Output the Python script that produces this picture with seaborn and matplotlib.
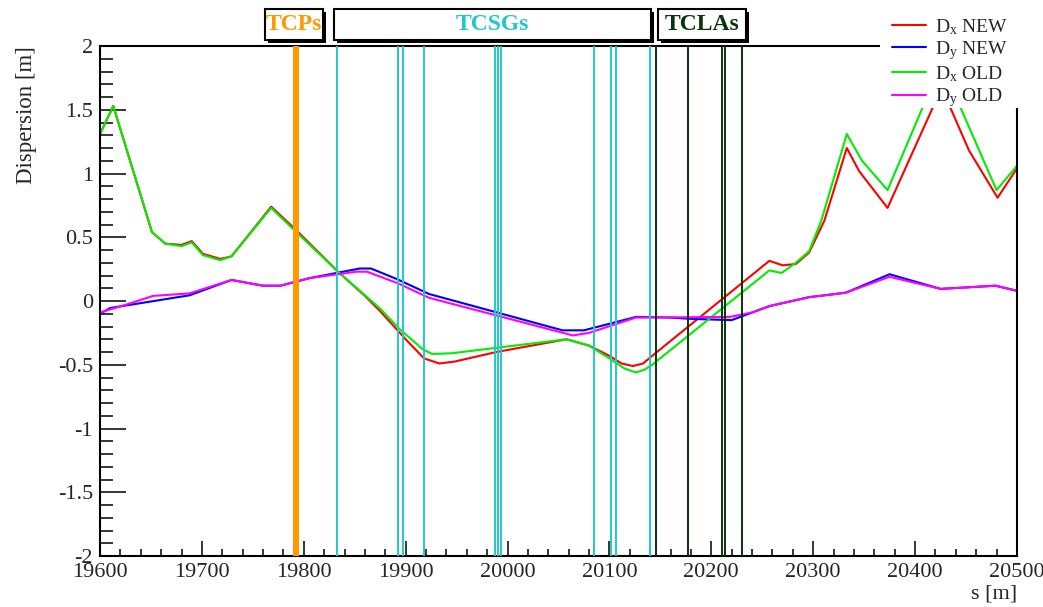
"""
Dispersion around the collimation region: NEW vs OLD optics
"""

import numpy as np
import pandas as pd
import matplotlib
matplotlib.use('Agg')
import matplotlib.pyplot as plt
import matplotlib.transforms as mtransforms
from matplotlib.patches import Rectangle
from matplotlib.lines import Line2D
from matplotlib.ticker import MultipleLocator
import seaborn as sns

sns.set_style('white')
plt.rcParams['font.family'] = ['Liberation Serif', 'DejaVu Serif']
plt.rcParams['mathtext.fontset'] = 'custom'
plt.rcParams['mathtext.rm'] = 'Liberation Serif'
plt.rcParams['mathtext.it'] = 'Liberation Serif:italic'

# --- data ---
dx_new_s = [19600, 19613, 19651, 19664, 19680, 19690, 19701, 19718, 19729, 19768,
            19792, 19835, 19860, 19875, 19900, 19918, 19933, 19948, 19989, 20058,
            20080, 20100, 20112, 20123, 20133, 20142, 20257, 20270, 20283, 20296,
            20311, 20333, 20345, 20373, 20417, 20426, 20435, 20453, 20481, 20500]
dx_new = [1.31, 1.53, 0.54, 0.45, 0.44, 0.47, 0.37, 0.33, 0.35, 0.74,
          0.56, 0.22, 0.04, -0.08, -0.30, -0.45, -0.49, -0.475, -0.40, -0.30,
          -0.35, -0.43, -0.49, -0.51, -0.49, -0.43, 0.315, 0.28, 0.29, 0.38,
          0.63, 1.20, 1.02, 0.73, 1.51, 1.68, 1.51, 1.18, 0.81, 1.04]

dy_new_s = [19600, 19610, 19688, 19729, 19760, 19777, 19806, 19855, 19866, 19892,
            19923, 20054, 20075, 20126, 20160, 20180, 20220, 20257, 20296, 20332,
            20375, 20425, 20479, 20500]
dy_new = [-0.10, -0.055, 0.045, 0.165, 0.12, 0.12, 0.18, 0.255, 0.255, 0.17,
          0.055, -0.23, -0.23, -0.125, -0.13, -0.14, -0.15, -0.04, 0.03, 0.065,
          0.21, 0.095, 0.12, 0.08]

dx_old_s = [19600, 19613, 19651, 19664, 19680, 19690, 19701, 19718, 19729, 19768,
            19794, 19835, 19875, 19894, 19917, 19926, 19945, 20058, 20080, 20100,
            20115, 20126, 20134, 20142, 20257, 20269, 20283, 20296, 20308, 20333,
            20348, 20373, 20407, 20426, 20445, 20480, 20500]
dx_old = [1.31, 1.53, 0.54, 0.45, 0.43, 0.46, 0.36, 0.32, 0.35, 0.73,
          0.53, 0.22, -0.06, -0.22, -0.38, -0.415, -0.41, -0.30, -0.35, -0.45,
          -0.53, -0.56, -0.54, -0.50, 0.24, 0.22, 0.30, 0.39, 0.63, 1.31,
          1.10, 0.87, 1.51, 1.87, 1.51, 0.87, 1.06]

dy_old_s = [19600, 19627, 19652, 19688, 19729, 19760, 19777, 19806, 19852, 19862,
            19892, 19923, 20064, 20080, 20126, 20218, 20240, 20257, 20296, 20332,
            20375, 20425, 20479, 20500]
dy_old = [-0.09, -0.025, 0.04, 0.06, 0.165, 0.12, 0.12, 0.18, 0.23, 0.23,
          0.14, 0.025, -0.27, -0.25, -0.13, -0.125, -0.09, -0.04, 0.03, 0.065,
          0.19, 0.095, 0.12, 0.08]

# collimator positions [m]
tcp_s = [19792]
tcsg_s = [19833, 19892, 19897, 19918, 19988, 19991, 19994, 20085, 20102, 20106, 20140]
tcla_s = [20146, 20177, 20211, 20213, 20230]

# label boxes (s range of each family)
box_names = ['TCPs', 'TCSGs', 'TCLAs']
box_ranges = [(19762, 19819), (19830, 20141), (20148, 20234)]

# colours
c_red, c_blue, c_green, c_mag = '#ff0000', '#0000ff', '#00ee00', '#ff00ff'
c_tcp, c_tcsg, c_tcla = '#ff9900', '#22c8c8', '#0a330a'
box_colors = [c_tcp, c_tcsg, c_tcla]

fig = plt.figure(figsize=(10.43, 6.07), dpi=100)
ax = fig.add_axes([0.0959, 0.084, 0.8791, 0.8402])

curves = [
    ('Dx NEW', dx_new_s, dx_new, c_red),
    ('Dy NEW', dy_new_s, dy_new, c_blue),
    ('Dx OLD', dx_old_s, dx_old, c_green),
    ('Dy OLD', dy_old_s, dy_old, c_mag),
]
for name, s, d, col in curves:
    df = pd.DataFrame({'s': s, 'D': d})
    sns.lineplot(data=df, x='s', y='D', color=col, linewidth=1.5, ax=ax,
                 estimator=None, sort=False, legend=False)

for x in tcp_s:
    ax.axvline(x, color=c_tcp, lw=4.3, zorder=4)
for x in tcsg_s:
    ax.axvline(x, color=c_tcsg, lw=1.4, zorder=4)
for x in tcla_s:
    ax.axvline(x, color=c_tcla, lw=1.4, zorder=4)

ax.set_xlim(19600, 20500)
ax.set_ylim(-2, 2)
ax.xaxis.set_major_locator(MultipleLocator(100))
ax.xaxis.set_minor_locator(MultipleLocator(20))
ax.yaxis.set_major_locator(MultipleLocator(0.5))
ax.yaxis.set_minor_locator(MultipleLocator(0.1))
ax.yaxis.set_major_formatter(plt.FuncFormatter(lambda v, p: f'{v:g}'))
ax.tick_params(which='both', bottom=True, left=True, top=False, right=False)
ax.tick_params(axis='y', which='major', direction='in', length=19, width=1.3,
               labelsize=16, pad=5)
ax.tick_params(axis='y', which='minor', direction='in', length=9.5, width=1.3)
ax.tick_params(axis='x', which='major', direction='in', length=10.8, width=1.3,
               labelsize=16, pad=5)
ax.tick_params(axis='x', which='minor', direction='in', length=5, width=1.3)
for sp in ax.spines.values():
    sp.set_linewidth(1.5)
    sp.set_color('black')

ax.set_xlabel('s [m]', fontsize=16, loc='right')
ax.xaxis.set_label_coords(1.0, -0.056)
ax.set_ylabel('Dispersion [m]', fontsize=16.5, loc='top')
ax.yaxis.set_label_coords(-0.069, 1.0)

# white pad behind the legend (hides frame corner and curve peaks)
fig.patches.append(Rectangle((0.844, 0.822), 0.16, 0.18, transform=fig.transFigure,
                             facecolor='white', edgecolor='none', zorder=3))

handles = [Line2D([], [], color=col, lw=1.5) for _, _, _, col in curves]
labels = [r'D$_{\rm x}$ NEW', r'D$_{\rm y}$ NEW', r'D$_{\rm x}$ OLD', r'D$_{\rm y}$ OLD']
fig.legend(handles, labels, loc='upper left', bbox_to_anchor=(0.848, 0.985),
           frameon=False, fontsize=14, handlelength=1.75, handletextpad=0.45,
           labelspacing=0.12, borderaxespad=0)

# collimator family label boxes above the frame
trans = mtransforms.blended_transform_factory(ax.transData, fig.transFigure)
y0, y1 = 1 - 40 / 607, 1 - 9 / 607
for name, (x0, x1), col in zip(box_names, box_ranges, box_colors):
    shadow = Rectangle((x0 + 3, y0 - 3 / 607), x1 - x0, y1 - y0, transform=trans,
                       facecolor='black', edgecolor='black', lw=0, clip_on=False)
    box = Rectangle((x0, y0), x1 - x0, y1 - y0, transform=trans,
                    facecolor='white', edgecolor='black', lw=1.5, clip_on=False)
    fig.patches.extend([shadow, box])
    fig.text((x0 + x1) / 2, (y0 + y1) / 2, name, transform=trans, ha='center',
             va='center', color=col, fontsize=17, fontweight='bold')

fig.savefig('out.png', dpi=100)
